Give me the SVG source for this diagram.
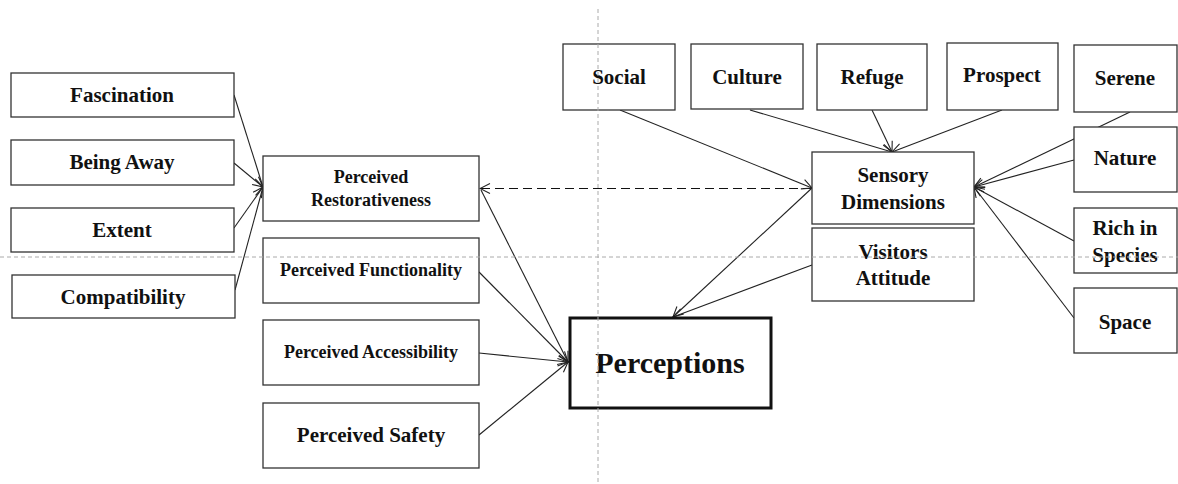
<svg xmlns="http://www.w3.org/2000/svg" width="1178" height="484" viewBox="0 0 1178 484">
<defs>
<marker id="arr" markerWidth="12" markerHeight="12" refX="11" refY="6" orient="auto" markerUnits="userSpaceOnUse">
<path d="M1,1 L11,6 L1,11" fill="none" stroke="#222" stroke-width="1.1"/>
</marker>
<style>
rect.box{fill:#fff;stroke:#333;stroke-width:1.3}
rect.main{fill:#fff;stroke:#111;stroke-width:3}
text{font-family:"Liberation Serif","Times New Roman",serif;font-weight:bold;fill:#111;text-anchor:middle}
.t21{font-size:21px}
.t18{font-size:18px}
.big{font-size:30px}
.conn line{stroke:#222;stroke-width:1.1;fill:none;marker-end:url(#arr)}
.conn line.dash{stroke-dasharray:9,5;stroke:#111;stroke-width:1.2}
.guide{stroke:#aaa;stroke-width:1;stroke-dasharray:4,3;fill:none}
</style>
</defs>
<rect width="1178" height="484" fill="#fff"/>
<g id="connectors" class="conn">
<line x1="234" y1="95" x2="263" y2="187"/>
<line x1="234" y1="163" x2="263" y2="187"/>
<line x1="234" y1="228" x2="263" y2="187"/>
<line x1="235" y1="290" x2="263" y2="187"/>
<line x1="481" y1="190" x2="568" y2="362"/>
<line x1="479" y1="272" x2="568" y2="362"/>
<line x1="479" y1="353" x2="568" y2="362"/>
<line x1="479" y1="435" x2="568" y2="362"/>
<line class="dash" x1="812" y1="188.5" x2="480" y2="188.5"/>
<line x1="812" y1="188" x2="673" y2="317"/>
<line x1="812" y1="265" x2="673" y2="317"/>
<line x1="620" y1="110" x2="812" y2="188"/>
<line x1="750" y1="110" x2="892" y2="152"/>
<line x1="872" y1="110" x2="892" y2="152"/>
<line x1="1002" y1="110" x2="892" y2="152"/>
<line x1="1130" y1="112" x2="974" y2="187"/>
<line x1="1074" y1="160" x2="974" y2="187"/>
<line x1="1074" y1="241" x2="974" y2="187"/>
<line x1="1074" y1="318" x2="974" y2="187"/>
</g>
<g id="fascination"><rect class="box" x="11" y="73" width="223" height="44"/><text class="t21" x="122" y="102">Fascination</text></g>
<g id="being-away"><rect class="box" x="11" y="140" width="223" height="45"/><text class="t21" x="122" y="169">Being Away</text></g>
<g id="extent"><rect class="box" x="11" y="208" width="223" height="44"/><text class="t21" x="122" y="237">Extent</text></g>
<g id="compatibility"><rect class="box" x="12" y="275" width="223" height="43"/><text class="t21" x="123" y="304">Compatibility</text></g>
<g id="perceived-restorativeness"><rect class="box" x="263" y="156" width="216" height="65"/><text class="t18" x="371" y="183">Perceived</text><text class="t18" x="371" y="206">Restorativeness</text></g>
<g id="perceived-functionality"><rect class="box" x="263" y="238" width="216" height="65"/><text class="t18" x="371" y="276">Perceived Functionality</text></g>
<g id="perceived-accessibility"><rect class="box" x="263" y="320" width="216" height="65"/><text class="t18" x="371" y="358">Perceived Accessibility</text></g>
<g id="perceived-safety"><rect class="box" x="263" y="403" width="216" height="65"/><text class="t21" x="371" y="442">Perceived Safety</text></g>
<g id="perceptions"><rect class="main" x="570" y="318" width="201" height="90"/><text class="big" x="670" y="373">Perceptions</text></g>
<g id="social"><rect class="box" x="563" y="44" width="112" height="66"/><text class="t21" x="619" y="84">Social</text></g>
<g id="culture"><rect class="box" x="691" y="44" width="112" height="65"/><text class="t21" x="747" y="84">Culture</text></g>
<g id="refuge"><rect class="box" x="817" y="44" width="110" height="66"/><text class="t21" x="872" y="84">Refuge</text></g>
<g id="prospect"><rect class="box" x="947" y="43" width="111" height="67"/><text class="t21" x="1002" y="82">Prospect</text></g>
<g id="serene"><rect class="box" x="1074" y="45" width="103" height="67"/><text class="t21" x="1125" y="85">Serene</text></g>
<g id="nature"><rect class="box" x="1074" y="127" width="103" height="65"/><text class="t21" x="1125" y="165">Nature</text></g>
<g id="rich-in-species"><rect class="box" x="1074" y="208" width="103" height="65"/><text class="t21" x="1125" y="235">Rich in</text><text class="t21" x="1125" y="262">Species</text></g>
<g id="space"><rect class="box" x="1074" y="288" width="103" height="65"/><text class="t21" x="1125" y="329">Space</text></g>
<g id="sensory-dimensions"><rect class="box" x="812" y="152" width="162" height="72"/><text class="t21" x="893" y="182">Sensory</text><text class="t21" x="893" y="209">Dimensions</text></g>
<g id="visitors-attitude"><rect class="box" x="812" y="228" width="162" height="73"/><text class="t21" x="893" y="259">Visitors</text><text class="t21" x="893" y="285">Attitude</text></g>
<g id="guides">
<line class="guide" x1="598" y1="9" x2="598" y2="484"/>
<line class="guide" x1="0" y1="257" x2="1178" y2="257"/>
</g>
</svg>
